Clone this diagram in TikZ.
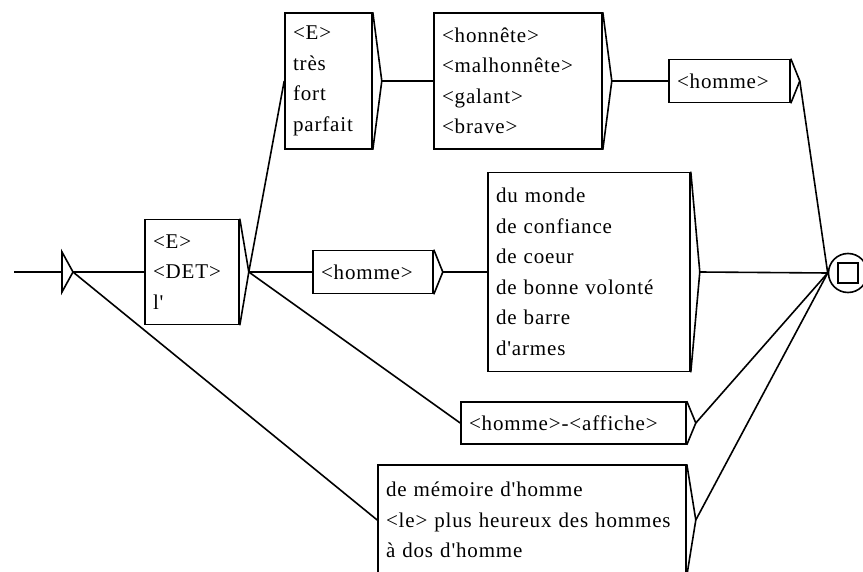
\documentclass[tikz,border=0pt]{standalone}
\usepackage{fontspec}
\setmainfont[LetterSpace=4, Ligatures=TeXOff]{Liberation Serif}
\tikzset{
  box/.style={draw, rectangle, align=left, inner xsep=8pt, inner ysep=0pt,
    font=\fontsize{21}{30.5}\selectfont},
}
\begin{document}
\begin{tikzpicture}[x=1pt, y=-1pt, line width=1.6pt]
  \useasboundingbox (0,0) rectangle (863,572);
  % Initial state
  \coordinate (start) at (14,272);
  \coordinate (ini) at (73,272);
  \draw (start) -- (62,272);
  \draw (62,252) -- (ini) -- (62,292) -- cycle;
  % Boxes
  \node[box, text width=78pt, minimum height=105pt] (det) at (192,272) {<E>\\<DET>\\l'};
  \node[box, text width=71pt, minimum height=136pt] (adv) at (328.5,81) {<E>\\très\\fort\\parfait};
  \node[box, text width=152pt, minimum height=136pt] (adj) at (518,81) {<honnête>\\<malhonnête>\\<galant>\\<brave>};
  \node[box, text width=105pt, minimum height=43pt] (hom) at (729.5,81) {<homme>};
  \node[box, text width=104pt, minimum height=43pt] (nom) at (373,272) {<homme>};
  \node[box, text width=186pt, minimum height=199pt] (cpl) at (589,272) {du monde\\de confiance\\de coeur\\de bonne volonté\\de barre\\d'armes};
  \node[box, text width=209pt, minimum height=42pt] (aff) at (573.5,423) {<homme>-<affiche>};
  \node[box, text width=292pt, minimum height=110pt] (loc) at (532,520) {de mémoire d'homme\\<le> plus heureux des hommes\\à dos d'homme};
  % Output arrows of the boxes
  \foreach \n in {det,adv,adj,hom,nom,cpl,aff,loc}
    \draw (\n.north east) -- ([xshift=9pt]\n.east) coordinate (\n-out) -- (\n.south east);
  % Final state
  \node[draw, circle, minimum size=39pt, inner sep=0pt] (fin) at (848,273) {};
  \node[draw, rectangle, minimum size=20pt, inner sep=0pt] (finbox) at (fin) {};
  % Transitions
  \draw (ini) -- (det.west);
  \draw (ini) -- (loc.west);
  \draw (det-out) -- (adv.west);
  \draw (det-out) -- (nom.west);
  \draw (det-out) -- (aff.west);
  \draw (adv-out) -- (adj.west);
  \draw (adj-out) -- (hom.west);
  \draw (nom-out) -- (cpl.west);
  \draw (hom-out) -- (fin.west);
  \draw (cpl-out) -- (fin.west);
  \draw (aff-out) -- (fin.west);
  \draw (loc-out) -- (fin.west);
\end{tikzpicture}
\end{document}
